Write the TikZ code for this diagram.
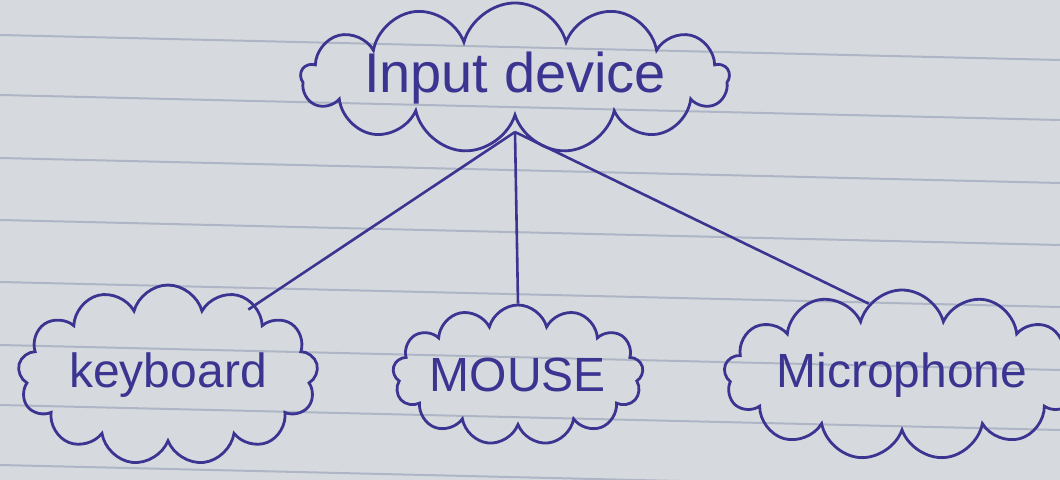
\documentclass[tikz,border=0pt]{standalone}
\usepackage{fontspec}
\setmainfont{Liberation Sans}
\usetikzlibrary{shapes.symbols}
\definecolor{ink}{HTML}{3B3490}
\definecolor{paper}{HTML}{D6DADF}
\definecolor{rule}{HTML}{AEB5C4}
\tikzset{
  bubble/.style={cloud, cloud puffs=13, cloud ignores aspect, draw=ink, line width=1.4pt,
    text=ink, inner sep=0pt},
  link/.style={draw=ink, line width=1.3pt},
  ruling/.style={draw=rule, line width=1pt}
}
\begin{document}
\begin{tikzpicture}[x=0.5pt,y=-0.5pt]
\fill[paper] (0,0) rectangle (1060,480);
\useasboundingbox (0,0) rectangle (1060,480);
\foreach \y in {35,95,158,220,282,345,405,465}{
  \draw[ruling] (0,\y) -- (1060,\y+25);
}
\node[bubble, minimum width=410*0.5pt, minimum height=125*0.5pt, font=\fontsize{28}{30}\selectfont] (top) at (515,78) {Input device};
\node[bubble, minimum width=300*0.5pt, minimum height=180*0.5pt, font=\fontsize{24}{26}\selectfont] (kb) at (168,375) {keyboard};
\node[bubble, minimum width=225*0.5pt, minimum height=140*0.5pt, font=\fontsize{24}{26}\selectfont] (ms) at (518,375) {MOUSE};
\node[bubble, minimum width=315*0.5pt, minimum height=170*0.5pt, font=\fontsize{24}{26}\selectfont] (mic) at (902,375) {Microphone};
\coordinate (hub) at ([yshift=-27pt]top.center);
\draw[link] (hub) -- ([shift={(6pt,-8pt)}]kb.50);
\draw[link] (hub) -- (ms.north);
\draw[link] (hub) -- (mic.115);
\end{tikzpicture}
\end{document}
